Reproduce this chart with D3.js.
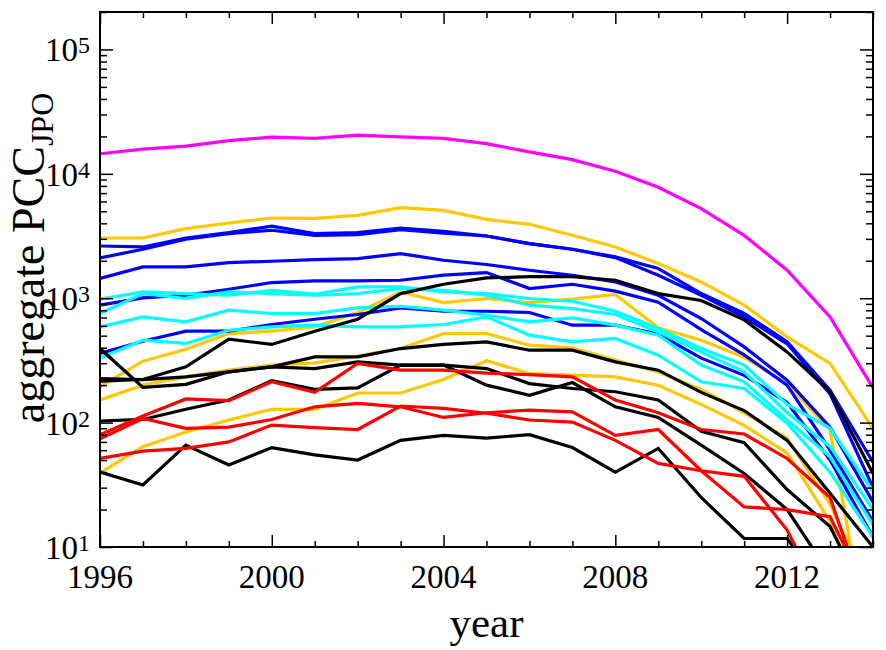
<!DOCTYPE html>
<html><head><meta charset="utf-8">
<script src="https://cdn.jsdelivr.net/npm/d3@7"></script>
<style>body{margin:0;background:#fff;} svg{display:block;}</style>
</head><body>
<svg id="c" width="886" height="650"></svg>
<script>
const years = [1996,1997,1998,1999,2000,2001,2002,2003,2004,2005,2006,2007,2008,2009,2010,2011,2012,2013,2014];
const xMajorTicks = [1996,2000,2004,2008,2012];
const yTickValues = [10,100,1000,10000,100000];
const yTickExponents = ["1","2","3","4","5"];

const magenta1 = [14500,15800,16700,18500,19700,19300,20500,19800,19300,17500,15000,13000,10500,7800,5250,3200,1680,708,190];
const yellow1 = [3050,3050,3630,4025,4415,4380,4640,5350,5090,4300,3930,3206,2583,1900,1352,879,489,299,90];
const yellow2 = [195,312,389,520,543,589,768,1124,923,995,923,982,1071,578,460,335,206,87,1];
const yellow3 = [152,200,233,264,290,302,342,394,520,520,419,400,318,255,185,120,75,22,4];
const yellow4 = [39.5,64,84,105,128,128,173,173,222,314,248,241,233,200,140,95,57,16,2];
const blue1 = [2630,2583,3050,3370,3800,3310,3370,3670,3450,3165,2750,2475,2148,1733,1090,754,446,182,48];
const blue2 = [2108,2475,2978,3310,3520,3206,3240,3560,3340,3165,2750,2475,2120,1531,1057,708,430,170,30];
const blue3 = [1440,1784,1784,1936,1983,2046,2083,2286,2020,1866,1679,1531,1352,1057,687,406,219,92,23];
const blue4 = [879,1005,1057,1181,1337,1377,1377,1395,1531,1608,1197,1295,1140,930,560,350,200,60,16];
const blue5 = [360,451,543,543,615,678,740,836,786,786,768,607,607,515,330,240,145,50,12];
const cyan1 = [982,1124,1090,1057,1159,1077,1233,1233,1124,1090,995,946,786,571,394,290,140,90,28];
const cyan2 = [754,1090,995,1124,1090,1057,1090,1197,1159,1057,879,826,740,536,370,256,120,64,20];
const cyan3 = [588,708,645,801,754,754,836,862,801,730,645,695,607,505,290,213,105,53,15];
const cyan4 = [331,460,433,553,588,607,588,588,615,708,505,446,475,348,213,188,99,40,12];
const black1 = [215,222,281,469,425,543,678,1090,1295,1456,1490,1490,1395,1090,958,670,370,177,39];
const black2 = [226,222,233,256,281,338,338,394,425,446,382,382,308,264,175,125,72,27,10];
const black3 = [394,192,203,256,281,272,308,290,290,272,206,188,177,152,85,69,29,14.6,3];
const black4 = [103,106,128,152,217,185,190,290,290,200,166,210,134,110,66,39,20,6,1];
const black5 = [40,31.5,66,45.6,63,55,50,72,79,75,80,63,40,62,25,11.7,11.7,4,1];
const red1 = [80,113,155,150,213,175,299,264,264,250,243,233,152,120,88,81,51.5,25,2.5];
const red2 = [74,108,90,92,106,134,143,134,110,120,126,122,79,88,41,21,20,17.5,3.5];
const red3 = [51.5,59,62,70,95.5,91,88,136,130,119,105,101,72,47,41,37,13.7,2.8,1];

const seriesList = [yellow1,yellow2,yellow3,yellow4,blue1,blue2,blue3,blue4,blue5,cyan1,cyan2,cyan3,cyan4,black1,black2,black3,black4,black5,red1,red2,red3,magenta1];
const seriesColors = ["#FFC800","#FFC800","#FFC800","#FFC800","#0000FF","#0000FF","#0000FF","#0000FF","#0000FF","#00FFFF","#00FFFF","#00FFFF","#00FFFF","#000000","#000000","#000000","#000000","#000000","#FF0000","#FF0000","#FF0000","#FF00FF"];

const svg = d3.select("#c");
const L = 100, R = 873, T = 12, B = 547;
const x = d3.scaleLinear().domain([1996,2014]).range([L,R]);
const y = d3.scaleLog().domain([10,2e5]).range([B,T]);
const font = "'Liberation Serif', serif";

svg.append("defs").append("clipPath").attr("id","clip")
  .append("rect").attr("x",L).attr("y",T).attr("width",R-L).attr("height",B-T);

const line = d3.line().x((d,i)=>x(years[i])).y(d=>y(d));
const lg = svg.append("g").attr("clip-path","url(#clip)");
seriesList.forEach((s,k)=>{
  lg.append("path").datum(s).attr("d",line).attr("fill","none")
    .attr("stroke",seriesColors[k]).attr("stroke-width",3.2).attr("stroke-linejoin","miter");
});

const yMinor = [];
for (let e=1;e<=5;e++){ for(let m=2;m<=9;m++){ const v=m*Math.pow(10,e); if(v<=2e5) yMinor.push(v);} }
const minorX = years.filter(v=>!xMajorTicks.includes(v));

function ax(gen, tr){ const g=svg.append("g").attr("transform",tr).call(gen); g.select(".domain").remove(); g.selectAll("line").attr("stroke","#000").attr("stroke-width",1.5); return g; }
ax(d3.axisBottom(x).tickValues(xMajorTicks).tickSize(-12).tickFormat(""), `translate(0,${B})`);
ax(d3.axisBottom(x).tickValues(minorX).tickSize(-6).tickFormat(""), `translate(0,${B})`);
ax(d3.axisTop(x).tickValues(xMajorTicks).tickSize(-12).tickFormat(""), `translate(0,${T})`);
ax(d3.axisTop(x).tickValues(minorX).tickSize(-6).tickFormat(""), `translate(0,${T})`);
ax(d3.axisLeft(y).tickValues(yTickValues).tickSize(-13).tickFormat(""), `translate(${L},0)`);
ax(d3.axisLeft(y).tickValues(yMinor).tickSize(-7).tickFormat(""), `translate(${L},0)`);
ax(d3.axisRight(y).tickValues(yTickValues).tickSize(-13).tickFormat(""), `translate(${R},0)`);
ax(d3.axisRight(y).tickValues(yMinor).tickSize(-7).tickFormat(""), `translate(${R},0)`);

svg.append("rect").attr("x",L).attr("y",T).attr("width",R-L).attr("height",B-T)
  .attr("fill","none").attr("stroke","#000").attr("stroke-width",2);

svg.append("g").selectAll("text").data(xMajorTicks).join("text")
  .attr("x",d=>x(d)).attr("y",588).attr("text-anchor","middle")
  .attr("font-family",font).attr("font-size",33).attr("fill","#000").text(d=>d);

const yl = svg.append("g").selectAll("text").data(yTickValues).join("text")
  .attr("x",90).attr("y",(d)=>y(d)+12).attr("text-anchor","end")
  .attr("font-family",font).attr("font-size",33).attr("fill","#000");
yl.append("tspan").text("10");
yl.append("tspan").attr("dy",-8).attr("font-size",24).text((d,i)=>yTickExponents[i]);

svg.append("text").attr("x",(L+R)/2).attr("y",637).attr("text-anchor","middle")
  .attr("font-family",font).attr("font-size",43).attr("fill","#000").text("year");

const yt = svg.append("text").attr("transform","translate(44,258) rotate(-90)").attr("text-anchor","middle")
  .attr("font-family",font).attr("font-size",46).attr("fill","#000");
yt.append("tspan").text("aggregate PCC");
yt.append("tspan").attr("font-size",32).attr("dy",9).text("JPO");
</script>
</body></html>
